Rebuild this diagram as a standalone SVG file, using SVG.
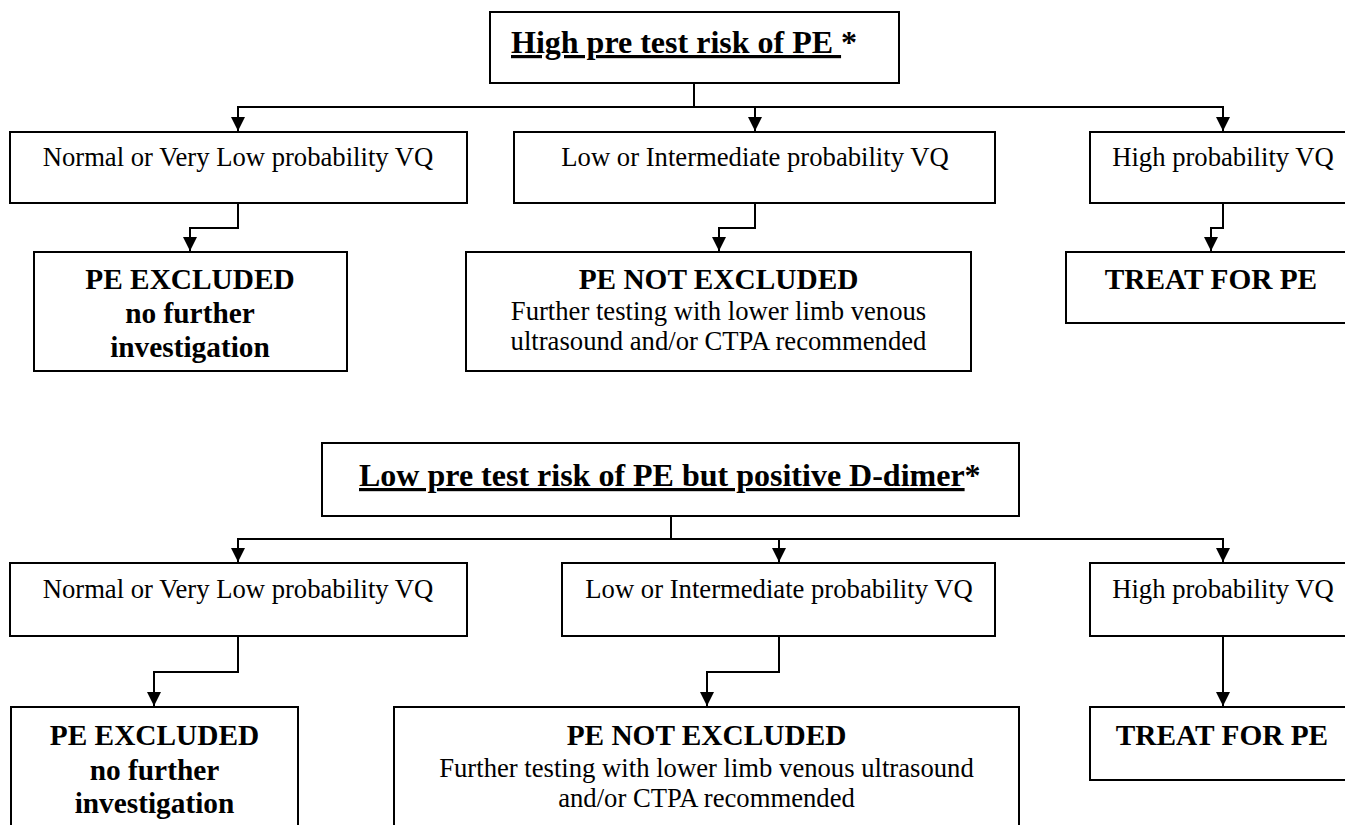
<svg xmlns="http://www.w3.org/2000/svg" width="1345" height="825" viewBox="0 0 1345 825">
<style>
.box{fill:#fff;stroke:#000;stroke-width:2}
.ln{fill:none;stroke:#000;stroke-width:2}
text{font-family:"Liberation Serif","Times New Roman",serif;fill:#000}
.r{font-size:26.67px;text-anchor:middle}
.b{font-size:29.33px;font-weight:bold;text-anchor:middle}
.t{font-size:32px;font-weight:bold}
</style>
<defs>
<marker id="ah" markerUnits="userSpaceOnUse" markerWidth="16" markerHeight="16" viewBox="0 0 16 16" refX="14" refY="8" orient="auto">
<path d="M0,1 L14,8 L0,15 Z" fill="#000"/>
</marker>
</defs>
<rect width="1345" height="825" fill="#fff"/>
<g id="connectors">
<path class="ln" d="M694,83 V107"/>
<path class="ln" d="M238,132 V107 H1223 V132" />
<path class="ln" d="M238,107 V131" marker-end="url(#ah)"/>
<path class="ln" d="M755,107 V131" marker-end="url(#ah)"/>
<path class="ln" d="M1223,107 V131" marker-end="url(#ah)"/>
<path class="ln" d="M238,203 V228 H190 V251" marker-end="url(#ah)"/>
<path class="ln" d="M755,203 V228 H719 V251" marker-end="url(#ah)"/>
<path class="ln" d="M1223,203 V228 H1211 V251" marker-end="url(#ah)"/>
<path class="ln" d="M671,516 V539"/>
<path class="ln" d="M238,563 V539 H1223 V563"/>
<path class="ln" d="M238,539 V562" marker-end="url(#ah)"/>
<path class="ln" d="M779,539 V562" marker-end="url(#ah)"/>
<path class="ln" d="M1223,539 V562" marker-end="url(#ah)"/>
<path class="ln" d="M238,636 V672 H154 V706" marker-end="url(#ah)"/>
<path class="ln" d="M779,636 V672 H707 V706" marker-end="url(#ah)"/>
<path class="ln" d="M1223,636 V706" marker-end="url(#ah)"/>
</g>
<g id="high-risk">
<rect class="box" x="490" y="12" width="409" height="71"/>
<text class="t" x="511" y="53"><tspan text-decoration="underline">High pre test risk of PE </tspan>*</text>
</g>
<g id="h-normal">
<rect class="box" x="10" y="132" width="457" height="71"/>
<text class="r" x="238" y="166">Normal or Very Low probability VQ</text>
</g>
<g id="h-lowint">
<rect class="box" x="514" y="132" width="481" height="71"/>
<text class="r" x="755" y="166">Low or Intermediate probability VQ</text>
</g>
<g id="h-high">
<rect class="box" x="1090" y="132" width="270" height="71"/>
<text class="r" x="1223" y="166">High probability VQ</text>
</g>
<g id="h-excluded">
<rect class="box" x="34" y="252" width="313" height="119"/>
<text class="b" x="190" y="289">PE EXCLUDED</text>
<text class="b" x="190" y="323">no further</text>
<text class="b" x="190" y="357">investigation</text>
</g>
<g id="h-notexcluded">
<rect class="box" x="466" y="252" width="505" height="119"/>
<text class="b" x="718.5" y="289">PE NOT EXCLUDED</text>
<text class="r" x="718.5" y="320">Further testing with lower limb venous</text>
<text class="r" x="718.5" y="350">ultrasound and/or CTPA recommended</text>
</g>
<g id="h-treat">
<rect class="box" x="1066" y="252" width="294" height="71"/>
<text class="b" x="1211" y="289">TREAT FOR PE</text>
</g>
<g id="low-risk">
<rect class="box" x="322" y="443" width="697" height="73"/>
<text class="t" x="359" y="486"><tspan text-decoration="underline">Low pre test risk of PE but positive D-dimer</tspan>*</text>
</g>
<g id="l-normal">
<rect class="box" x="10" y="563" width="457" height="73"/>
<text class="r" x="238" y="598">Normal or Very Low probability VQ</text>
</g>
<g id="l-lowint">
<rect class="box" x="562" y="563" width="433" height="73"/>
<text class="r" x="779" y="598">Low or Intermediate probability VQ</text>
</g>
<g id="l-high">
<rect class="box" x="1090" y="563" width="270" height="73"/>
<text class="r" x="1223" y="598">High probability VQ</text>
</g>
<g id="l-excluded">
<rect class="box" x="11" y="707" width="287" height="140"/>
<text class="b" x="154.5" y="745">PE EXCLUDED</text>
<text class="b" x="154.5" y="780">no further</text>
<text class="b" x="154.5" y="813">investigation</text>
</g>
<g id="l-notexcluded">
<rect class="box" x="394" y="707" width="625" height="140"/>
<text class="b" x="706.5" y="745">PE NOT EXCLUDED</text>
<text class="r" x="706.5" y="777">Further testing with lower limb venous ultrasound</text>
<text class="r" x="706.5" y="807">and/or CTPA recommended</text>
</g>
<g id="l-treat">
<rect class="box" x="1090" y="707" width="270" height="73"/>
<text class="b" x="1222" y="745">TREAT FOR PE</text>
</g>
</svg>
